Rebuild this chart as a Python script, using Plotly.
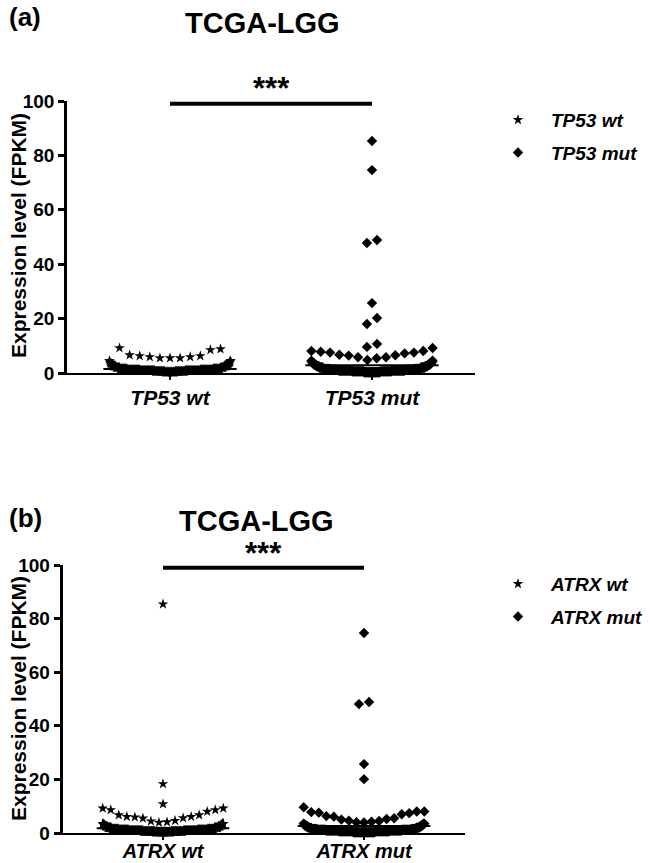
import numpy as np
import plotly.graph_objects as go

W, H = 650, 863

# ---------------- data ----------------
groups_a = ["TP53 wt", "TP53 mut"]
groups_b = ["ATRX wt", "ATRX mut"]

# low-expression bulk: value levels and how many samples sit at each level
dense_levels = [0.3, 0.6, 0.9, 1.2, 1.5, 2.0, 2.5, 3.0, 3.5, 4.0, 4.5]
a_wt_counts = [20, 40, 60, 50, 30, 15, 10, 7, 5, 3, 2]
a_mut_counts = [30, 45, 50, 35, 25, 15, 10, 8, 6, 4, 2]
b_wt_counts = [40, 60, 70, 50, 35, 20, 12, 8, 5, 0, 0]
b_mut_counts = [30, 40, 35, 25, 15, 10, 6, 4, 3, 0, 0]

# individually visible samples
a_wt_sparse = [8.8, 6.6, 6.3, 5.9, 5.5, 5.5, 5.5, 5.9, 6.3, 8.5, 9.2]
a_mut_sparse = [85.3, 74.6, 48.9, 47.8, 25.7, 20.2, 18.0, 10.7, 9.6,
                9.2, 7.8, 7.5, 7.2, 6.5, 5.8, 5.4, 4.8, 5.8, 6.4, 6.7, 7.5, 8.1, 8.1]
b_wt_sparse = [85.4, 18.3, 10.8, 9.2, 8.6, 6.7, 6.1, 5.9, 4.6, 5.6, 5.5,
               6.1, 6.7, 8.0, 8.6, 9.2, 4.4, 4.1, 3.9]
b_mut_sparse = [74.6, 48.9, 48.1, 25.7, 20.1, 9.6, 8.0, 8.0, 7.8, 7.4, 6.3,
                6.1, 7.0, 7.6, 5.2, 4.6, 5.5, 5.0, 4.5, 4.2, 4.0, 3.9]

y_ticks = [0, 20, 40, 60, 80, 100]

# ---------------- layout settings ----------------
ROWS_A = [0, 4.7, 9.5, 15, 22, 30, 60, 80, 100.1]
ROWS_B = [0, 3.75, 10, 15, 22, 30, 60, 80, 100.1]
SPACING = 0.05
MAX_HALF = 0.3
MEAN_HALF = 0.33
FONT = "Liberation Sans, Arial, sans-serif"


def expand(levels, counts, sparse):
    return np.concatenate([np.repeat(levels, counts), np.asarray(sparse, float)])


def swarm(vals, edges):
    vals = np.asarray(vals, float)
    offs = np.zeros(len(vals))
    rows = np.digitize(vals, edges)
    order = np.argsort(vals, kind="stable")
    for r in np.unique(rows):
        idx = [i for i in order if rows[i] == r]
        n = len(idx)
        if n == 1:
            continue
        s = SPACING if (n - 1) * SPACING / 2 <= MAX_HALF else 2 * MAX_HALF / (n - 1)
        pos = (np.arange(n) - (n - 1) / 2) * s
        slot = sorted(range(n), key=lambda j: (abs(pos[j]), pos[j] > 0 if (j % 2) else pos[j] < 0))
        for k, i in enumerate(idx):
            offs[i] = pos[slot[k]]
    return offs


def px(x):
    return x / W


def py(y):
    return 1 - y / H


fig = go.Figure()

panels = [
    dict(names=groups_a, data=[expand(dense_levels, a_wt_counts, a_wt_sparse),
                               expand(dense_levels, a_mut_counts, a_mut_sparse)],
         rows=ROWS_A, xa="x", ya="y", legend="legend"),
    dict(names=groups_b, data=[expand(dense_levels, b_wt_counts, b_wt_sparse),
                               expand(dense_levels, b_mut_counts, b_mut_sparse)],
         rows=ROWS_B, xa="x2", ya="y2", legend="legend2"),
]
symbols = ["star", "diamond"]
sizes = [8, 8]

shapes = []
for p in panels:
    for gi, (name, vals) in enumerate(zip(p["names"], p["data"])):
        xs = gi + swarm(vals, p["rows"])
        fig.add_trace(go.Scatter(
            x=xs, y=vals, mode="markers", name="<i>%s</i>" % name,
            marker=dict(symbol=symbols[gi], size=sizes[gi], color="black",
                        line=dict(width=0)),
            cliponaxis=False, xaxis=p["xa"], yaxis=p["ya"], legend=p["legend"],
            legendgroup=p["legend"] + str(gi), hoverinfo="skip"))
        m = float(np.mean(vals))
        shapes.append(dict(type="line", xref=p["xa"], yref=p["ya"],
                           x0=gi - MEAN_HALF, x1=gi + MEAN_HALF, y0=m, y1=m,
                           line=dict(color="black", width=2)))
    shapes.append(dict(type="line", xref=p["xa"], yref=p["ya"], x0=0, x1=1, y0=99, y1=99,
                       line=dict(color="black", width=4)))

axis_common = dict(showline=True, linecolor="black", ticks="outside", tickcolor="black",
                   showgrid=False, zeroline=False, fixedrange=True, automargin=False)
legend_common = dict(xanchor="left", yanchor="top", itemwidth=56, tracegroupgap=5,
                     font=dict(size=19, weight="bold", style="italic", family=FONT),
                     bgcolor="rgba(0,0,0,0)")

fig.update_layout(
    template="none",
    width=W, height=H, margin=dict(l=0, r=0, t=0, b=0, pad=0),
    paper_bgcolor="white", plot_bgcolor="white",
    font=dict(family=FONT, color="black"),
    showlegend=True,
    xaxis=dict(domain=[px(67), px(475)], range=[-0.51, 1.51], anchor="y",
               tickvals=[0, 1], ticktext=groups_a, linewidth=2, tickwidth=2, ticklen=5,
               tickfont=dict(size=21, weight="bold", style="italic", family=FONT), **axis_common),
    yaxis=dict(domain=[py(373), py(101)], range=[0, 100], anchor="x",
               tickvals=y_ticks, linewidth=2.5, tickwidth=2.5, ticklen=6,
               tickfont=dict(size=19, weight="bold", family=FONT), **axis_common),
    xaxis2=dict(domain=[px(62.5), px(464.5)], range=[-0.5, 1.5], anchor="y2",
                tickvals=[0, 1], ticktext=groups_b, linewidth=2, tickwidth=2, ticklen=5,
                ticklabelstandoff=-6,
                tickfont=dict(size=20, weight="bold", style="italic", family=FONT), **axis_common),
    yaxis2=dict(domain=[py(833), py(565)], range=[0, 100], anchor="x2",
                tickvals=y_ticks, linewidth=2.5, tickwidth=2.5, ticklen=6,
                tickfont=dict(size=19, weight="bold", family=FONT), **axis_common),
    legend=dict(x=px(485), y=py(101), **legend_common),
    legend2=dict(x=px(485), y=py(565), **legend_common),
    shapes=shapes,
)

ann = []
for lab, y in [("(a)", 17), ("(b)", 518)]:
    ann.append(dict(text="<b>%s</b>" % lab, xref="paper", yref="paper", x=px(7), y=py(y),
                    xanchor="left", yanchor="middle", showarrow=False, font=dict(size=26)))
for y, xc in [(23, 262.5), (521, 256)]:
    ann.append(dict(text="<b>TCGA-LGG</b>", xref="paper", yref="paper", x=px(xc), y=py(y),
                    xanchor="center", yanchor="middle", showarrow=False, font=dict(size=29)))
for xr, y in [("x", 89), ("x2", 553)]:
    ann.append(dict(text="<b>***</b>", xref=xr, yref="paper", x=0.5, y=py(y),
                    xanchor="center", yanchor="middle", showarrow=False, font=dict(size=31)))
for y in [236, 699]:
    ann.append(dict(text="<b>Expression level (FPKM)</b>", xref="paper", yref="paper",
                    x=px(18), y=py(y), xanchor="center", yanchor="middle", textangle=-90,
                    showarrow=False, font=dict(size=21)))
fig.update_layout(annotations=ann)

fig.write_html("out.html", config={"displayModeBar": False},
               post_script="document.body.style.margin='0';document.body.style.overflow='hidden';")
